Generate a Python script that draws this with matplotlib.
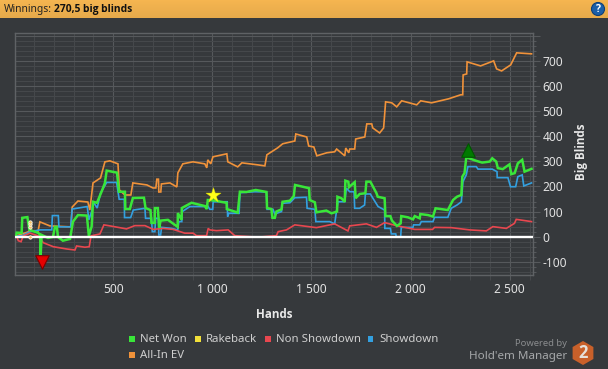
import numpy as np
import matplotlib
matplotlib.use('Agg')
import matplotlib.pyplot as plt
from matplotlib.patches import Rectangle, Circle, RegularPolygon
from matplotlib.ticker import FuncFormatter, MultipleLocator

plt.rcParams['font.family'] = ['Noto Sans', 'DejaVu Sans']
bold_font = ['Open Sans', 'DejaVu Sans']

# All-In EV
ev_hands = [10, 70, 80, 120, 130, 180, 287, 293, 322, 372, 382, 398, 436, 458, 483, 524, 531, 559, 589, 599,
            670, 700, 715, 720, 728, 730, 740, 743, 786, 821, 826, 851, 902, 962, 972, 977, 992, 1003, 1073, 1078,
            1128, 1149, 1229, 1265, 1275, 1330, 1355, 1416, 1421, 1476, 1486, 1512, 1527, 1577, 1617, 1627, 1668,
            1673, 1688, 1693, 1718, 1723, 1769, 1779, 1804, 1809, 1844, 1864, 1874, 1905, 1930, 1955, 2031, 2051,
            2106, 2192, 2253, 2263, 2265, 2283, 2285, 2353, 2419, 2434, 2459, 2505, 2535, 2610]
ev_vals = [3, 19, 27, 19, 59, 43, 39, 118, 142, 138, 106, 214, 234, 298, 302, 290, 186, 166, 166, 214,
           206, 194, 194, 229, 229, 178, 178, 210, 214, 198, 254, 290, 298, 290, 274, 306, 290, 318, 330, 298,
           278, 294, 286, 282, 326, 354, 370, 381, 409, 397, 361, 357, 322, 334, 338, 349, 322,
           353, 334, 349, 349, 389, 397, 449, 449, 433, 413, 433, 537, 533, 517, 541, 525, 541,
           533, 549, 565, 565, 644, 648, 696, 680, 700, 668, 660, 684, 732, 728]

# Net Won
won_hands = [10, 13, 38, 41, 67, 77, 122, 131, 134, 139, 171, 196, 206, 216, 221, 246, 282, 297, 322, 367,
             377, 391, 398, 418, 441, 458, 467, 519, 529, 559, 561, 584, 599, 655, 663, 688, 693, 709, 710, 725,
             732, 739, 776, 825, 826, 845, 846, 895, 962, 972, 977, 1023, 1041, 1072, 1073, 1128, 1139, 1172, 1219,
             1273, 1276, 1298, 1303, 1315, 1323, 1349, 1354, 1391, 1411, 1417, 1466, 1488, 1491, 1517, 1525, 1575,
             1601, 1629, 1631, 1651, 1668, 1671, 1686, 1689, 1718, 1723, 1743, 1772, 1777, 1797, 1828, 1834, 1869,
             1873, 1898, 1906, 1931, 1950, 1953, 1987, 2012, 2021, 2046, 2049, 2088, 2113, 2126, 2188, 2214, 2234,
             2256, 2261, 2272, 2281, 2331, 2361, 2399, 2412, 2432, 2440, 2465, 2499, 2508, 2525, 2541, 2563, 2575, 2610]
won_vals = [3, 16, 15, 75, 78, 27, 15, 7, -73, 7, -5, -1, 39, 39, -1, -16, -9, 60, 86, 84,
            3, 40, 139, 135, 179, 214, 263, 255, 179, 179, 110, 110, 154, 155, 114, 106, 55, 55, 114, 114,
            35, 64, 67, 39, 94, 67, 114, 135, 122, 110, 146, 143, 139, 135, 110, 96, 179, 178, 186,
            178, 114, 110, 75, 75, 100, 109, 139, 143, 162, 206, 197, 193, 146, 137, 97, 104,
            93, 100, 159, 153, 139, 223, 219, 197, 217, 153, 170, 173, 219, 219, 173, 159, 153,
            82, 82, 64, 43, 53, 82, 77, 69, 82, 73, 90, 86, 80, 113, 106, 146, 159,
            166, 239, 253, 316, 302, 295, 299, 312, 299, 273, 269, 288, 249, 253, 292, 306, 259, 270]

# Showdown
sd_hands = [10, 38, 80, 131, 190, 193, 223, 226, 285, 293, 369, 377, 391, 399, 419, 436, 467, 517, 530, 556,
            557, 588, 601, 660, 663, 693, 697, 710, 714, 728, 730, 739, 744, 794, 825, 831, 846, 848, 887, 962,
            974, 987, 1002, 1004, 1075, 1077, 1083, 1135, 1139, 1214, 1273, 1276, 1306, 1315, 1349, 1352, 1391,
            1416, 1475, 1478, 1517, 1522, 1592, 1617, 1626, 1634, 1668, 1676, 1693, 1715, 1718, 1743, 1768, 1772,
            1797, 1810, 1836, 1869, 1870, 1898, 1903, 1925, 1928, 1950, 1953, 2012, 2015, 2046, 2054, 2113, 2121,
            2188, 2205, 2234, 2256, 2264, 2281, 2289, 2331, 2340, 2412, 2436, 2437, 2491, 2504, 2530, 2541, 2563,
            2571, 2610]
sd_vals = [3, 3, 20, 27, 27, 84, 84, 39, 39, 110, 120, 67, 100, 139, 114, 174, 216, 216, 149, 149,
           76, 76, 106, 113, 73, 73, 20, 20, 73, 73, 7, 7, 37, 33, 27, 60, 60, 100, 120, 120,
           126, 109, 109, 139, 139, 80, 93, 93, 175, 179, 178, 109, 109, 90, 100, 133, 135,
           155, 157, 113, 109, 60, 60, 51, 100, 139, 139, 193, 179, 179, 113, 113, 126, 170,
           170, 153, 120, 106, 33, 33, 11, 11, 0, 0, 37, 37, 47, 47, 60, 60, 77,
           77, 113, 126, 139, 219, 246, 279, 279, 269, 269, 259, 235, 235, 199, 199, 239, 246,
           202, 214]

# Non Showdown
nsd_hands = [10, 21, 35, 46, 80, 122, 147, 198, 265, 307, 315, 357, 379, 388, 433, 453, 483, 567, 609, 660,
             702, 752, 802, 861, 903, 920, 971, 979, 987, 1021, 1080, 1113, 1229, 1323, 1332, 1374, 1416, 1525,
             1617, 1684, 1693, 1777, 1828, 1869, 1928, 2021, 2111, 2121, 2205, 2298, 2382, 2415, 2483, 2524,
             2533, 2610]
nsd_vals = [7, -16, -20, 3, 14, 3, -24, -40, -49, -53, -37, -42, -40, 3, 11, 47, 43, 31, 44, 44,
            29, 33, 29, 14, 14, 4, 4, 33, 27, 24, 27, 4, -2, 4, 20, 27, 47, 36,
            51, 23, 43, 51, 37, 56, 44, 29, 29, 37, 36, 27, 23, 40, 33, 53,
            69, 60]

# Rakeback
rake_hands = [10, 2610]
rake_vals = [0, 0]
rake_dot_hands = [80, 80, 80, 80]
rake_dot_vals = [0, 40, 50, 60]

# big loss / big win / star
low_hand, low_val = 139, -101
high_hand, high_val = 2289, 345
star_hand, star_val = 1002, 166

legend_names = ['Net Won', 'Rakeback', 'Non Showdown', 'Showdown', 'All-In EV']
legend_colors = ['#39e639', '#f2e03a', '#e8474f', '#33a0e0', '#f0923a']

W, H = 608, 369
bg = '#36393c'

fig = plt.figure(figsize=(W / 100, H / 100), dpi=100, facecolor=bg)

# header bar
bar = fig.add_axes([0, 1 - 18 / H, 1, 18 / H])
grad = np.linspace(0, 1, 18).reshape(-1, 1)
cols = np.array([0xf5, 0xb5, 0x50]) * (1 - grad[..., None] * 0.06)
bar.imshow(cols.astype(int), aspect='auto', extent=[0, W, 18, 0])
bar.set_xlim(0, W)
bar.set_ylim(18, 0)
bar.axis('off')
bar.text(4, 9.5, 'Winnings:', fontsize=7.4, color='#222222', va='center')
bar.text(54, 9.5, '270,5 big blinds', fontsize=7.4, color='#111111', va='center', fontweight='bold', family=bold_font)
bar.add_patch(Circle((598, 9), 6.5, fc='#1c5fa8', ec='#0e3f78', lw=0.8))
bar.text(598, 9, '?', color='white', fontsize=7.5, fontweight='bold', ha='center', va='center', family=bold_font)

# plot
ax = fig.add_axes([15.3 / W, 1 - 275 / H, (532.7 - 15.3) / W, (275 - 33) / H], facecolor=bg)
ax.set_xlim(6, 2616)
ax.set_ylim(-152.6, 811)

ax.xaxis.set_major_locator(MultipleLocator(500))
ax.xaxis.set_minor_locator(MultipleLocator(100))
ax.yaxis.set_major_locator(MultipleLocator(100))
ax.yaxis.set_minor_locator(MultipleLocator(20))
ax.xaxis.set_major_formatter(FuncFormatter(lambda v, p: f'{int(v):,}'.replace(',', ' ')))
ax.yaxis.set_major_formatter(FuncFormatter(lambda v, p: f'{int(v)}' if v < 750 else ''))
ax.yaxis.tick_right()
ax.yaxis.set_label_position('right')
ax.grid(which='major', color='#56595c', lw=0.8)
ax.grid(which='minor', color='#45484b', lw=0.8)
ax.set_axisbelow(True)
ax.tick_params(which='major', axis='x', length=3.5, width=0.8, color='#56595c', labelcolor='#e2e2e2', labelsize=8.6, pad=2.5)
ax.tick_params(which='minor', axis='x', length=3.5, width=0.8, color='#45484b')
ax.tick_params(which='major', axis='y', length=5, width=0.8, color='#56595c', labelcolor='#e2e2e2', labelsize=8.6, pad=2)
ax.tick_params(which='minor', axis='y', length=2.5, width=0.8, color='#55585b')
for s in ax.spines.values():
    s.set_color('#5f6265')
    s.set_linewidth(1)

ax.plot(ev_hands, ev_vals, color=legend_colors[4], lw=1.2, zorder=3, solid_joinstyle='miter')
ax.plot(sd_hands, sd_vals, color=legend_colors[3], lw=1.2, zorder=4, solid_joinstyle='miter')
ax.plot(nsd_hands, nsd_vals, color=legend_colors[2], lw=1.2, zorder=5, solid_joinstyle='miter')
ax.plot(rake_hands, rake_vals, color=legend_colors[1], lw=1.2, zorder=5)
ax.plot(won_hands, won_vals, color=legend_colors[0], lw=1.8, zorder=6, solid_joinstyle='miter')
ax.axhline(0, color='white', lw=1.7, zorder=7)
ax.scatter(rake_dot_hands, rake_dot_vals, s=6, color='#f3c36a', edgecolors='white', linewidths=0.5, zorder=8)

ax.scatter([low_hand], [low_val], marker='v', s=95, color='#e60000', edgecolors='#7a0000', linewidths=0.8, zorder=9)
ax.scatter([high_hand], [high_val], marker='^', s=95, color='#007a00', edgecolors='#005500', linewidths=0.8, zorder=9)
ax.scatter([star_hand], [star_val], marker='*', s=130, color='#ffff1a', edgecolors='#d8d800', linewidths=0.3, zorder=9)


# everything else is placed in pixels
def fx(px):
    return px / W


def fy(py):
    return 1 - py / H


fig.text(fx(274), fy(314), 'Hands', color='#e8e8e8', fontsize=8.4, fontweight='bold', ha='center', va='center',
         family=bold_font)
fig.text(fx(582), fy(152), 'Big Blinds', color='#e8e8e8', fontsize=8.4, fontweight='bold', rotation=90,
         ha='center', va='center', family=bold_font)

legend_x = [131, 197, 267, 370, 131]
legend_y = [339, 339, 339, 339, 355]
for name, col, lx, ly in zip(legend_names, legend_colors, legend_x, legend_y):
    fig.add_artist(Rectangle((fx(lx - 2.5), fy(ly + 3)), 6 / W, 6 / H, transform=fig.transFigure, fc=col, ec='none'))
    fig.text(fx(lx + 9), fy(ly), name, color='#cfcfcf', fontsize=8.2, va='center')

# logo
fig.text(fx(567), fy(344), 'Powered by', color='#8a8c8e', fontsize=6.8, ha='right', va='center')
fig.text(fx(567), fy(356), "Hold'em Manager", color='#a5a7a9', fontsize=8.4, ha='right', va='center')
logo = fig.add_axes([0, 0, 1, 1], facecolor='none')
logo.set_xlim(0, W)
logo.set_ylim(H, 0)
logo.axis('off')
logo.add_patch(RegularPolygon((583, 353), 6, radius=12, fc='#c8602a', ec='none'))
logo.text(583, 353, '2', color='#e6e0da', fontsize=12, fontweight='bold', ha='center', va='center', family=bold_font)

fig.savefig('out.png', dpi=100, facecolor=bg)
